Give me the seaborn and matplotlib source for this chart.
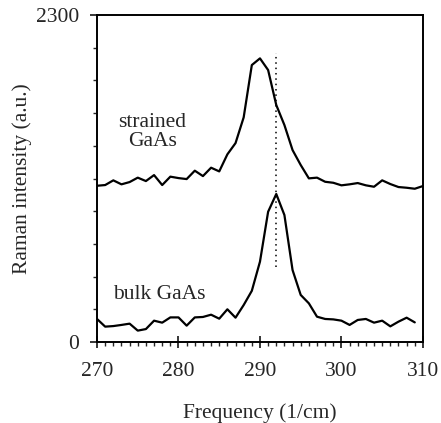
import numpy as np
import pandas as pd
import matplotlib
matplotlib.use("Agg")
import matplotlib.pyplot as plt
import seaborn as sns
from matplotlib.ticker import MultipleLocator, FixedLocator

# Data
freq_strained = list(range(270, 311))
strained = [1099, 1104, 1137, 1109, 1125, 1156, 1132, 1174, 1104, 1163,
            1153, 1146, 1205, 1167, 1226, 1200, 1320, 1399, 1580, 1948,
            1995, 1913, 1667, 1526, 1350, 1245, 1151, 1156, 1127, 1120,
            1102, 1109, 1118, 1102, 1092, 1137, 1111, 1090, 1085, 1078,
            1097]
freq_bulk = list(range(270, 310))
bulk = [162, 108, 112, 120, 129, 80, 91, 150, 136, 173,
        173, 115, 173, 176, 192, 164, 230, 171, 260, 360,
        565, 916, 1041, 893, 506, 331, 272, 178, 162, 159,
        150, 120, 155, 162, 136, 150, 110, 143, 171, 138]
marker_x = 292
marker_y = [527, 2030]
labels = ["strained\nGaAs", "bulk GaAs"]
label_pos = [(276.8, 1477), (277.7, 334)]

sns.set_style("ticks")
plt.rcParams['font.family'] = ['Liberation Serif', 'DejaVu Serif']
plt.rcParams['font.size'] = 15.5

fig = plt.figure(figsize=(4.41, 4.23), dpi=100)
ax = fig.add_axes([0.22, 0.1915, 0.739, 0.773])

df_s = pd.DataFrame({"f": freq_strained, "I": strained})
df_b = pd.DataFrame({"f": freq_bulk, "I": bulk})
sns.lineplot(data=df_s, x="f", y="I", ax=ax, color="black", linewidth=1.6)
sns.lineplot(data=df_b, x="f", y="I", ax=ax, color="black", linewidth=1.6)
ax.plot([marker_x, marker_x], marker_y, color="black", linestyle=(0, (1, 2.5)), linewidth=1.1)

for t, (x, y) in zip(labels, label_pos):
    ax.text(x, y, t, ha="center", va="center", fontsize=15.5, linespacing=1.05)

ax.set_xlim(270, 310)
ax.set_ylim(0, 2300)
ax.set_xticks([270, 280, 290, 300, 310])
ax.xaxis.set_minor_locator(MultipleLocator(1))
ax.yaxis.set_major_locator(FixedLocator([0, 2300]))
ax.yaxis.set_minor_locator(FixedLocator(np.arange(230, 2300, 230)))
ax.set_yticklabels(["0", "2300"])

ax.tick_params(axis="x", which="major", direction="inout", length=9, width=1.3, pad=10)
ax.tick_params(axis="x", which="minor", direction="out", length=3, width=1.0)
ax.tick_params(axis="y", which="major", direction="out", length=5, width=1.3, pad=8)
ax.tick_params(axis="y", which="minor", direction="out", length=3, width=1.0)

for s in ax.spines.values():
    s.set_linewidth(1.4)
    s.set_color("black")

ax.set_xlabel("Frequency (1/cm)", fontsize=15.5)
ax.set_ylabel("Raman intensity (a.u.)", fontsize=15.5)
ax.xaxis.set_label_coords(0.5, -0.187)
ax.yaxis.set_label_coords(-0.2, 0.5)

fig.savefig("out.png", dpi=100)
